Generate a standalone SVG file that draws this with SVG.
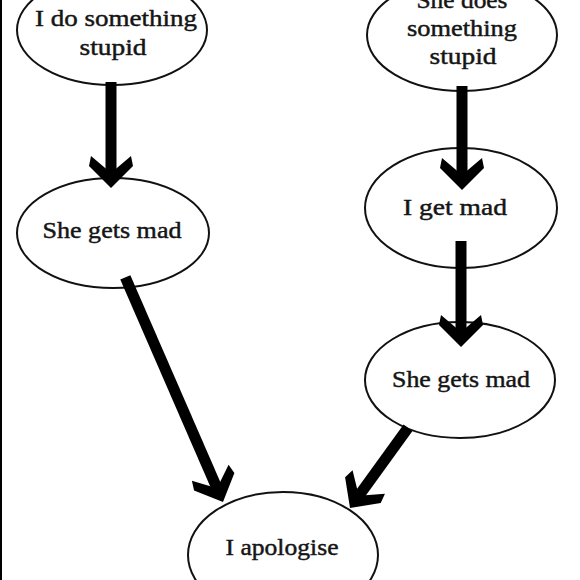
<svg xmlns="http://www.w3.org/2000/svg" width="580" height="580" viewBox="0 0 580 580">
<style>
.node ellipse{fill:#fff;stroke:#111;stroke-width:2}
.node text{font-family:"Liberation Serif","DejaVu Serif",serif;font-size:23px;fill:#151515;stroke:#151515;stroke-width:0.45;text-anchor:middle}
.shaft{stroke:#000;stroke-width:11;stroke-linecap:butt}
.head{fill:#000}
</style>
<defs>
<path id="head" class="head" d="M0,0 L-22,-22 L-20,-32 L0,-15 L20,-32 L22,-22 Z"/>
</defs>
<rect width="580" height="580" fill="#fff"/>
<rect x="0" y="0" width="2" height="580" fill="#000"/>
<g id="n1" class="node">
<ellipse cx="112" cy="30" rx="95" ry="55"/>
<text x="116" y="26" textLength="162" lengthAdjust="spacingAndGlyphs">I do something</text>
<text x="113" y="55" textLength="67" lengthAdjust="spacingAndGlyphs">stupid</text>
</g>
<g id="n2" class="node">
<ellipse cx="462" cy="35" rx="95" ry="56"/>
<text x="462" y="8" textLength="91" lengthAdjust="spacingAndGlyphs">She does</text>
<text x="462" y="36" textLength="110" lengthAdjust="spacingAndGlyphs">something</text>
<text x="463" y="64" textLength="67" lengthAdjust="spacingAndGlyphs">stupid</text>
</g>
<g id="n3" class="node">
<ellipse cx="113" cy="233" rx="96" ry="55"/>
<text x="112" y="238" textLength="139" lengthAdjust="spacingAndGlyphs">She gets mad</text>
</g>
<g id="n4" class="node">
<ellipse cx="461" cy="208" rx="96" ry="60"/>
<text x="455" y="215" textLength="104" lengthAdjust="spacingAndGlyphs">I get mad</text>
</g>
<g id="n5" class="node">
<ellipse cx="460" cy="380" rx="95" ry="58"/>
<text x="461" y="387" textLength="138" lengthAdjust="spacingAndGlyphs">She gets mad</text>
</g>
<g id="n6" class="node">
<ellipse cx="283" cy="555" rx="95" ry="63"/>
<text x="282" y="555" textLength="113" lengthAdjust="spacingAndGlyphs">I apologise</text>
</g>
<g id="connectors">
<g transform="translate(111,188)"><line class="shaft" x1="0" y1="-106" x2="0" y2="-12"/><use href="#head"/></g>
<g transform="translate(462,190)"><line class="shaft" x1="0" y1="-104" x2="0" y2="-12"/><use href="#head"/></g>
<g transform="translate(461,347)"><line class="shaft" x1="0" y1="-106" x2="0" y2="-12"/><use href="#head"/></g>
<g transform="translate(223,502) rotate(-23.5)"><line class="shaft" x1="0" y1="-245" x2="0" y2="-12"/><use href="#head"/></g>
<g transform="translate(350,508) rotate(35.9)"><line class="shaft" x1="0" y1="-99" x2="0" y2="-12"/><use href="#head"/></g>
</g>
</svg>
